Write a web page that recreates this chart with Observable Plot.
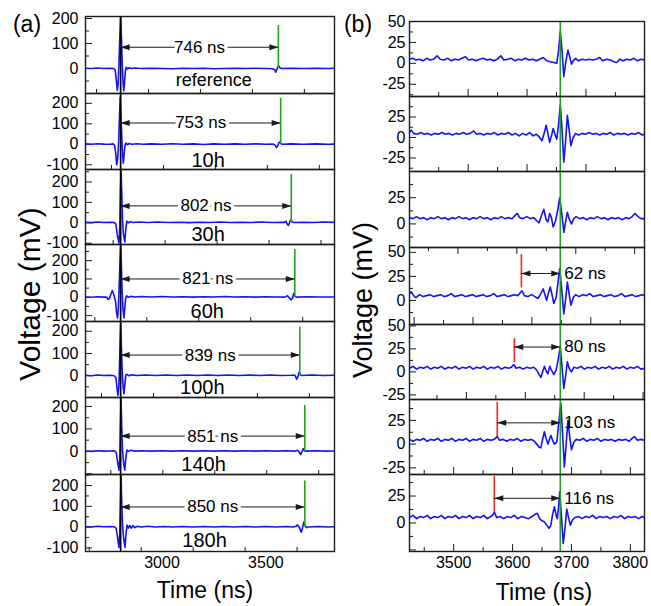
<!DOCTYPE html>
<html><head><meta charset="utf-8">
<script src="https://cdn.jsdelivr.net/npm/d3@7"></script>
<script src="https://cdn.jsdelivr.net/npm/@observablehq/plot@0.6"></script>
<style>
body{margin:0;background:#fff;}
#chart{position:relative;width:651px;height:606px;font-family:"Liberation Sans",Arial,Helvetica,sans-serif;overflow:hidden;background:#fff}
.lbl{position:absolute;color:#000;white-space:nowrap;line-height:1;transform:translate(-50%,-50%)}
.rot{transform:translate(-50%,-50%) rotate(-90deg)}
</style></head><body><div id="chart"></div>
<script>
// ---------------- DATA: panel (a) ----------------
const rowLabelsA = ["reference","10h","30h","60h","100h","140h","180h"];
const delayLabelsA = ["746 ns","753 ns","802 ns","821 ns","839 ns","851 ns","850 ns"];
const pulseTimeA = 2801;
const echoTimeA = [3560,3571,3622,3639,3663,3687,3687];
const echoMarkTopA = [172,224,236,261,218,204,222];
const arrowYA = [85,104,83,100,93,68,97];
const rowLabelYA = [-48,-81,-56,-77,-52,-59,-64];
const rowLabelXA = [3249,3222,3222,3218,3194,3200,3205];
const yDomainsA = [[-100,208],[-123,248],[-106,261],[-132,288],[-98,244],[-103,240],[-117,253]];
const yTickLabelsA = [[200,100,0],[200,100,0,-100],[200,100,0,-100],[200,100,0,-100],[200,100,0],[200,100,0],[200,100,0,-100]];
const xDomainA = [2632,3830];
const xTickLabelsA = [3000,3500];
const xTickShiftA = [35,107,115,27,59,104,0];

const traceRef = [[2632,1],[2660,0],[2690,2],[2720,0],[2750,1],[2768,0],[2775,-8],[2780,-45],[2785,-88],[2789,-60],[2793,20],[2797,120],[2801,205],[2805,120],[2809,10],[2813,-60],[2816,-90],[2820,-55],[2824,-8],[2828,5],[2834,-2],[2842,3],[2852,0],[2870,2],[2900,0],[2950,1],[3000,0],[3050,-1],[3100,1],[3150,0],[3200,1],[3250,-1],[3300,0],[3350,1],[3400,0],[3450,1],[3500,0],[3530,-1],[3542,-4],[3547,-15],[3552,-6],[3558,8],[3562,11],[3567,3],[3575,0],[3620,1],[3680,0],[3740,1],[3800,0],[3830,1]];
const trace10h = [[2632,2],[2660,0],[2690,3],[2720,1],[2750,0],[2765,2],[2772,-5],[2777,-40],[2782,-100],[2787,-70],[2791,0],[2795,120],[2799,230],[2803,130],[2807,20],[2811,-60],[2814,-92],[2818,-50],[2822,-5],[2827,6],[2834,-2],[2842,4],[2855,0],[2880,3],[2910,0],[2950,2],[3000,0],[3050,3],[3100,0],[3150,2],[3200,-1],[3250,2],[3300,0],[3350,2],[3400,0],[3450,2],[3500,0],[3535,1],[3543,-3],[3551,-16],[3557,-6],[3563,8],[3567,11],[3572,3],[3580,0],[3620,2],[3680,0],[3740,2],[3800,0],[3830,1]];
const trace30h = [[2632,3],[2660,1],[2690,4],[2720,2],[2750,3],[2770,2],[2778,-6],[2785,-60],[2793,-99],[2797,-20],[2800,150],[2803,255],[2806,160],[2810,20],[2814,-50],[2821,-94],[2826,-30],[2831,8],[2838,0],[2848,5],[2860,2],[2890,4],[2930,2],[2980,4],[3030,2],[3080,3],[3130,1],[3180,3],[3230,2],[3280,4],[3330,2],[3380,3],[3430,2],[3480,4],[3530,2],[3580,3],[3590,2],[3597,8],[3603,-8],[3609,-12],[3616,8],[3621,16],[3627,4],[3635,2],[3680,3],[3730,2],[3780,4],[3830,2]];
const trace60h = [[2632,2],[2660,0],[2690,3],[2720,1],[2733,2],[2740,-12],[2747,-6],[2754,15],[2761,37],[2766,22],[2771,3],[2777,-25],[2781,-80],[2786,-113],[2790,-60],[2794,60],[2798,200],[2801,282],[2804,200],[2808,40],[2812,-60],[2817,-113],[2821,-60],[2825,-5],[2830,8],[2838,0],[2850,5],[2870,2],[2900,4],[2950,2],[3000,4],[3050,2],[3100,3],[3150,1],[3200,3],[3250,2],[3300,4],[3350,2],[3400,3],[3450,1],[3500,3],[3550,2],[3590,1],[3604,8],[3612,-2],[3622,-14],[3628,-5],[3634,22],[3640,5],[3648,1],[3700,3],[3760,2],[3830,2]];
const trace100h = [[2632,2],[2660,0],[2690,3],[2720,1],[2750,2],[2770,0],[2778,-8],[2783,-50],[2788,-89],[2793,-40],[2797,100],[2801,235],[2805,120],[2809,10],[2813,-50],[2817,-81],[2821,-40],[2826,3],[2832,6],[2840,0],[2855,4],[2880,1],[2920,3],[2970,1],[3020,3],[3070,1],[3120,3],[3170,1],[3220,3],[3270,1],[3320,3],[3370,1],[3420,3],[3470,1],[3520,3],[3570,1],[3620,2],[3638,3],[3642,-2],[3648,-16],[3654,-4],[3660,16],[3666,3],[3675,1],[3720,3],[3780,1],[3830,2]];
const trace140h = [[2632,2],[2660,0],[2690,3],[2720,1],[2750,2],[2770,3],[2780,-5],[2787,-50],[2793,-84],[2797,-30],[2800,120],[2803,235],[2806,120],[2810,10],[2815,-50],[2821,-84],[2826,-30],[2831,6],[2838,0],[2850,5],[2870,1],[2900,3],[2950,1],[3000,3],[3050,1],[3100,3],[3150,1],[3200,3],[3250,1],[3300,3],[3350,1],[3400,3],[3450,1],[3500,3],[3550,1],[3600,3],[3640,1],[3652,5],[3660,-3],[3667,-14],[3673,-3],[3680,12],[3686,2],[3695,1],[3740,3],[3790,1],[3830,2]];
const trace180h = [[2632,3],[2660,1],[2690,4],[2720,2],[2750,3],[2770,2],[2780,-6],[2787,-55],[2793,-97],[2797,-30],[2800,120],[2803,245],[2806,130],[2810,15],[2815,-50],[2822,-97],[2827,-30],[2832,10],[2838,-4],[2845,8],[2852,-5],[2860,7],[2870,-2],[2880,4],[2900,1],[2930,4],[2970,1],[3010,3],[3050,1],[3100,3],[3150,1],[3200,3],[3250,1],[3300,3],[3350,1],[3400,3],[3450,1],[3500,3],[3550,1],[3600,3],[3630,1],[3645,4],[3652,11],[3658,3],[3664,-8],[3670,-24],[3676,-5],[3682,24],[3688,6],[3696,-2],[3705,1],[3750,3],[3800,1],[3830,2]];
const tracesA = [traceRef,trace10h,trace30h,trace60h,trace100h,trace140h,trace180h];

// ---------------- DATA: panel (b) ----------------
const arrivalTimeB = 3681;
const redTimesB = [null,null,null,3615,3603,3574,3569];
const redRangeB = [null,null,null,[13,47.5],[10,36],[8,44],[10,43]];
const arrowYB = [null,null,null,28,27,22.4,22.9];
const delayLabelsB = [null,null,null,"62 ns","80 ns","103 ns","116 ns"];
const yDomainsB = [[-39.6,50],[-41.5,50],[-22.5,50],[-25,55],[-30,51.5],[-32,47],[-26.5,45]];
const yTickLabelsB = [[50,25,0,-25],[25,0,-25],[25,0],[50,25,0],[50,25,0,-25],[25,0,-25],[25,0]];
const xDomainB = [3425,3824];
const xTickLabelsB = [3500,3600,3700,3800];
const xTickShiftB = [24.6,24.6,7.3,32.8,21.6,0,0];

const waveB1 = [[3425,5],[3430,6],[3436,4],[3442,5],[3448,3],[3454,6],[3460,4],[3466,5],[3472,9],[3477,5],[3484,4],[3490,6],[3496,3],[3502,5],[3508,4],[3514,6],[3520,8],[3525,4],[3532,5],[3538,3],[3544,5],[3550,6],[3556,4],[3562,5],[3568,3],[3574,5],[3580,9],[3585,4],[3592,5],[3598,6],[3604,3],[3610,5],[3616,4],[3622,6],[3628,4],[3634,5],[3640,3],[3646,5],[3652,7],[3658,3],[3664,2],[3670,1],[3675,0],[3678,15],[3681,38],[3684,15],[3687,-16],[3690,0],[3694,16],[3697,8],[3700,-1],[3703,3],[3707,6],[3712,3],[3718,5],[3724,4],[3730,5],[3736,4],[3742,5],[3748,7],[3753,3],[3760,5],[3766,4],[3772,2],[3777,1],[3782,5],[3788,3],[3794,5],[3800,4],[3806,6],[3812,3],[3818,5],[3824,4]];
const waveB2 = [[3425,6],[3428,9],[3432,5],[3438,4],[3444,6],[3450,4],[3456,5],[3462,3],[3468,5],[3474,4],[3480,6],[3486,4],[3492,5],[3498,3],[3504,5],[3510,4],[3516,6],[3522,4],[3528,5],[3534,8],[3539,4],[3545,5],[3551,3],[3557,5],[3563,4],[3569,6],[3575,3],[3581,5],[3587,4],[3593,6],[3599,3],[3605,5],[3611,2],[3617,5],[3623,3],[3629,6],[3635,2],[3640,4],[3645,1],[3650,-4],[3654,6],[3657,15],[3660,5],[3663,-6],[3666,2],[3669,11],[3672,4],[3675,-2],[3678,15],[3681,40],[3684,10],[3687,-30],[3690,-5],[3693,27],[3696,10],[3699,-10],[3703,0],[3707,5],[3712,3],[3718,5],[3724,4],[3730,6],[3736,4],[3742,5],[3748,3],[3754,5],[3760,4],[3766,6],[3772,3],[3778,5],[3784,4],[3790,5],[3796,3],[3802,5],[3808,4],[3814,6],[3820,3],[3824,4]];
const waveB3 = [[3425,6],[3431,5],[3437,7],[3443,5],[3449,6],[3455,4],[3461,6],[3467,5],[3473,7],[3479,5],[3485,6],[3491,4],[3497,6],[3503,5],[3509,7],[3515,5],[3521,6],[3527,4],[3533,6],[3539,5],[3545,7],[3551,5],[3557,6],[3563,4],[3569,6],[3575,5],[3581,7],[3587,5],[3593,6],[3599,5],[3604,8],[3608,10],[3612,6],[3618,5],[3624,7],[3630,5],[3636,6],[3641,3],[3645,1],[3649,8],[3653,14],[3657,4],[3660,2],[3663,10],[3666,6],[3669,-3],[3673,3],[3677,14],[3680,25],[3684,8],[3687,-8],[3690,2],[3693,11],[3696,5],[3700,0],[3704,5],[3708,7],[3714,5],[3720,6],[3726,4],[3732,6],[3738,5],[3744,7],[3750,5],[3756,6],[3762,4],[3768,6],[3774,5],[3780,6],[3786,4],[3792,6],[3798,5],[3803,7],[3808,10],[3813,7],[3818,5],[3824,5]];
const waveB4 = [[3425,7],[3428,9],[3432,5],[3436,3],[3442,6],[3448,4],[3454,5],[3460,6],[3466,4],[3472,5],[3478,6],[3484,4],[3490,5],[3496,7],[3502,4],[3508,5],[3514,6],[3520,4],[3526,5],[3532,6],[3538,4],[3544,5],[3550,6],[3556,4],[3562,5],[3568,7],[3574,4],[3580,5],[3586,6],[3592,4],[3598,5],[3604,6],[3609,5],[3613,8],[3616,10],[3620,5],[3626,4],[3632,6],[3638,4],[3643,2],[3648,7],[3652,12],[3655,6],[3658,0],[3661,8],[3664,14],[3667,6],[3670,-3],[3674,3],[3677,18],[3680,33],[3684,8],[3687,-14],[3690,0],[3693,19],[3696,7],[3699,-5],[3703,3],[3707,6],[3713,4],[3719,6],[3725,5],[3731,7],[3737,4],[3743,5],[3749,6],[3755,4],[3761,5],[3767,6],[3773,4],[3779,5],[3785,7],[3791,4],[3797,5],[3803,6],[3809,4],[3815,5],[3820,6],[3824,5]];
const waveB5 = [[3425,4],[3431,6],[3437,3],[3443,5],[3449,4],[3455,6],[3461,3],[3467,5],[3473,4],[3479,6],[3485,3],[3491,5],[3497,4],[3503,6],[3509,3],[3515,5],[3521,4],[3527,6],[3533,3],[3539,5],[3545,4],[3551,6],[3557,3],[3563,5],[3569,4],[3575,6],[3581,3],[3587,5],[3593,4],[3598,5],[3602,8],[3606,4],[3612,5],[3618,3],[3624,5],[3630,4],[3636,5],[3641,2],[3645,-3],[3648,-6],[3651,0],[3654,6],[3657,1],[3660,-2],[3663,6],[3666,2],[3670,-3],[3674,2],[3677,12],[3681,27],[3684,5],[3687,-18],[3690,-5],[3693,11],[3696,4],[3700,0],[3704,5],[3710,4],[3716,6],[3722,3],[3728,5],[3734,4],[3740,6],[3746,3],[3752,5],[3758,4],[3764,6],[3770,3],[3776,5],[3782,4],[3788,6],[3794,3],[3800,5],[3806,4],[3812,6],[3818,3],[3824,4]];
const waveB6 = [[3425,5],[3431,3],[3437,5],[3443,4],[3449,6],[3455,3],[3461,5],[3467,4],[3473,6],[3479,3],[3485,5],[3491,4],[3497,6],[3503,3],[3509,5],[3515,4],[3521,6],[3527,3],[3533,5],[3539,4],[3545,6],[3551,3],[3557,5],[3563,4],[3569,5],[3574,8],[3578,4],[3584,5],[3590,3],[3596,5],[3602,4],[3608,6],[3614,3],[3620,5],[3626,4],[3632,5],[3637,3],[3641,0],[3645,-3],[3648,-4],[3651,5],[3654,13],[3657,6],[3660,0],[3663,6],[3665,9],[3668,4],[3671,0],[3675,2],[3678,20],[3682,43],[3685,10],[3688,-24],[3691,0],[3694,25],[3697,8],[3700,-6],[3704,2],[3708,5],[3714,4],[3720,6],[3726,3],[3732,5],[3738,4],[3744,6],[3750,3],[3756,5],[3762,4],[3768,5],[3774,3],[3780,5],[3786,4],[3792,5],[3798,3],[3803,6],[3807,8],[3812,4],[3818,5],[3824,4]];
const waveB7 = [[3425,5],[3431,7],[3437,4],[3443,6],[3449,5],[3455,7],[3461,4],[3467,6],[3473,5],[3479,7],[3485,4],[3491,6],[3497,5],[3503,7],[3509,4],[3515,6],[3521,5],[3527,7],[3533,4],[3539,6],[3545,5],[3551,7],[3557,4],[3563,6],[3566,7],[3569,10],[3573,5],[3579,6],[3585,4],[3591,6],[3597,5],[3603,7],[3609,4],[3615,6],[3621,5],[3627,4],[3633,6],[3638,8],[3642,9],[3646,4],[3650,2],[3654,1],[3658,-2],[3662,-5],[3665,-2],[3668,8],[3671,15],[3674,7],[3676,4],[3678,14],[3680,29],[3683,6],[3686,-19],[3689,-5],[3692,13],[3695,5],[3698,-2],[3702,3],[3706,5],[3712,6],[3718,4],[3724,6],[3730,5],[3736,7],[3742,4],[3748,6],[3754,5],[3760,6],[3766,4],[3772,6],[3778,5],[3784,7],[3790,4],[3796,6],[3802,5],[3808,6],[3814,4],[3820,6],[3824,5]];
const tracesB = [waveB1,waveB2,waveB3,waveB4,waveB5,waveB6,waveB7];

// ---------------- LAYOUT / STYLE ----------------
const FONT = '"Liberation Sans", Arial, Helvetica, sans-serif';
const ink = "#1a1a1a", blue = "#1212ff", green = "#22a022", red = "#ff2020";
const topsA = [16,93,169,244,321,397,474,551], leftA = 85, widthA = 249;
const topsB = [21,96,171,247,324,399,474,551], leftB = 409, widthB = 235;
const chart = document.getElementById("chart");
const headRight = {draw(ctx){ ctx.moveTo(0,0); ctx.lineTo(-9,-3); ctx.lineTo(-9,3); ctx.closePath(); }};
const tickFont = 16;

function place(svg, left, top){
  svg.style.position = "absolute";
  svg.style.left = left + "px";
  svg.style.top = top + "px";
  chart.appendChild(svg);
}
function html(text, x, y, size, cls){
  const d = document.createElement("div");
  d.className = "lbl" + (cls ? " " + cls : "");
  d.textContent = text;
  d.style.left = x + "px"; d.style.top = y + "px"; d.style.fontSize = size + "px";
  chart.appendChild(d);
}
function axisMarks(W, H, yd, yStep, yMajor, xd, xStep, xMajor, shift, yLabels, labelDx, downTicks){
  const yt = d3.range(Math.ceil(yd[0]/yStep)*yStep, yd[1] + 1e-9, yStep);
  const isYMaj = v => Math.abs(v / yMajor - Math.round(v / yMajor)) < 1e-6;
  const xt = d3.range(3400 - 1000, 4200, xStep).map(v => v + shift).filter(v => v > xd[0] && v < xd[1]);
  const isXMaj = v => Math.abs((v - shift) / xMajor - Math.round((v - shift) / xMajor)) < 1e-6;
  const xTickOpt = len => downTicks ? {insetTop: H, insetBottom: -len} : {insetTop: H - len};
  return [
    Plot.tickY(yt.filter(isYMaj), {y: d => d, insetRight: W - 7, stroke: ink}),
    Plot.tickY(yt.filter(v => !isYMaj(v)), {y: d => d, insetRight: W - 4, stroke: ink}),
    Plot.tickX(xt.filter(isXMaj), {x: d => d, stroke: ink, ...xTickOpt(7)}),
    Plot.tickX(xt.filter(v => !isXMaj(v)), {x: d => d, stroke: ink, ...xTickOpt(4)}),
    Plot.text(yLabels, {y: d => d, text: d => String(d), frameAnchor: "left", textAnchor: "end", dx: labelDx, fontSize: tickFont, fill: "#000"})
  ];
}

// ---------------- PANEL (a) ----------------
tracesA.forEach((trace, i) => {
  const H = topsA[i+1] - topsA[i], W = widthA;
  const ay = arrowYA[i], e = echoTimeA[i];
  const marks = [
    ...axisMarks(W, H, yDomainsA[i], 50, 100, xDomainA, 250, 500, xTickShiftA[i], yTickLabelsA[i], -7, false),
    Plot.line(trace, {x: d => d[0], y: d => d[1], stroke: blue, strokeWidth: 1.6, clip: true}),
    Plot.ruleX([pulseTimeA], {x: d => d, stroke: "#000", strokeWidth: 1.7}),
    Plot.ruleX([e], {x: d => d, y1: () => 0, y2: () => echoMarkTopA[i], stroke: green, strokeWidth: 1.6}),
    Plot.ruleY([ay], {y: d => d, x1: () => pulseTimeA, x2: () => e, stroke: ink, strokeWidth: 1}),
    Plot.dot([{x: pulseTimeA, y: ay, a: 180}, {x: e, y: ay, a: 0}], {x: "x", y: "y", rotate: "a", symbol: headRight, fill: ink, stroke: "none"}),
    Plot.text([delayLabelsA[i]], {x: () => (pulseTimeA + e) / 2, y: () => ay, text: d => d, fontSize: 17, fill: "#000", stroke: "#fff", strokeWidth: 7, paintOrder: "stroke"}),
    Plot.text([rowLabelsA[i]], {x: () => rowLabelXA[i], y: () => rowLabelYA[i], text: d => d, fontSize: i === 0 ? 18 : 20, fill: "#000"}),
    Plot.frame({stroke: ink, strokeWidth: 1.4})
  ];
  if (i === tracesA.length - 1) marks.push(Plot.text(xTickLabelsA, {x: d => d, text: d => String(d), frameAnchor: "bottom", dy: 16, fontSize: tickFont, fill: "#000"}));
  const svg = Plot.plot({
    width: W, height: H, marginTop: 0, marginBottom: 0, marginLeft: 0, marginRight: 0,
    x: {domain: xDomainA, axis: null}, y: {domain: yDomainsA[i], axis: null},
    style: {overflow: "visible", background: "transparent", fontFamily: FONT},
    marks
  });
  place(svg, leftA, topsA[i]);
});

// ---------------- PANEL (b) ----------------
tracesB.forEach((trace, i) => {
  const H = topsB[i+1] - topsB[i], W = widthB;
  const marks = [
    ...axisMarks(W, H, yDomainsB[i], 12.5, 25, xDomainB, 50, 100, xTickShiftB[i], yTickLabelsB[i], -4, i === 2),
    Plot.line(trace, {x: d => d[0], y: d => d[1], stroke: blue, strokeWidth: 1.6, clip: true}),
    Plot.ruleX([arrivalTimeB], {x: d => d, stroke: green, strokeWidth: 1.6})
  ];
  if (redTimesB[i] != null) {
    const ay = arrowYB[i], r = redTimesB[i];
    marks.push(
      Plot.ruleX([r], {x: d => d, y1: () => redRangeB[i][0], y2: () => redRangeB[i][1], stroke: red, strokeWidth: 1.6}),
      Plot.ruleY([ay], {y: d => d, x1: () => r, x2: () => arrivalTimeB, stroke: ink, strokeWidth: 1}),
      Plot.dot([{x: r, y: ay, a: 180}, {x: arrivalTimeB, y: ay, a: 0}], {x: "x", y: "y", rotate: "a", symbol: headRight, fill: ink, stroke: "none"}),
      Plot.text([delayLabelsB[i]], {x: () => arrivalTimeB, y: () => ay, text: d => d, textAnchor: "start", dx: 4, fontSize: 17, fill: "#000"})
    );
  }
  marks.push(Plot.frame({stroke: ink, strokeWidth: 1.4}));
  if (i === tracesB.length - 1) marks.push(Plot.text(xTickLabelsB, {x: d => d, text: d => String(d), frameAnchor: "bottom", dy: 16, fontSize: tickFont, fill: "#000"}));
  const svg = Plot.plot({
    width: W, height: H, marginTop: 0, marginBottom: 0, marginLeft: 0, marginRight: 0,
    x: {domain: xDomainB, axis: null}, y: {domain: yDomainsB[i], axis: null},
    style: {overflow: "visible", background: "transparent", fontFamily: FONT},
    marks
  });
  place(svg, leftB, topsB[i]);
});

// ---------------- titles ----------------
html("(a)", 27, 24, 23);
html("(b)", 358, 24, 23);
html("Voltage (mV)", 30, 294, 30, "rot");
html("Voltage (mV)", 363, 300, 27, "rot");
html("Time (ns)", 205, 590, 23);
html("Time (ns)", 544, 592, 23);
</script></body></html>
